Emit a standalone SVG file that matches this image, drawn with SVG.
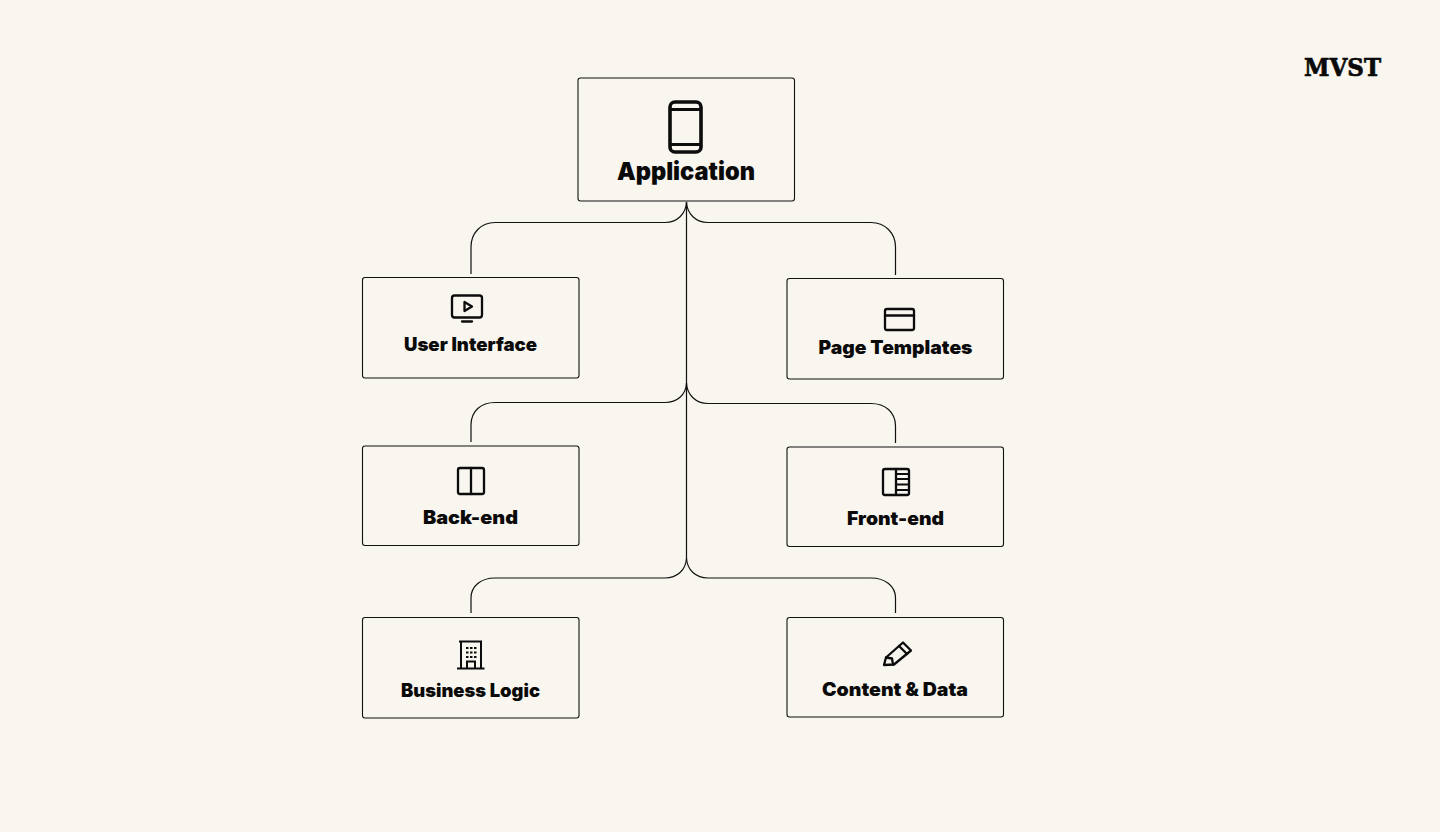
<svg xmlns="http://www.w3.org/2000/svg" width="1440" height="832" viewBox="0 0 1440 832">
<style>
.box{fill:#f9f5ef;stroke:#111;stroke-width:1.100}
.line{fill:none;stroke:#111;stroke-width:1.200}
.ic{fill:none;stroke:#0c0c0c;stroke-width:2.300;stroke-linejoin:round;stroke-linecap:round}
.lb{font-family:"Inter","Liberation Sans",sans-serif;font-weight:900;font-size:18.500px;fill:#0a0a0a;text-anchor:middle}
</style>
<rect width="1440" height="832" fill="#f9f5ef"/>
<g id="connectors" class="line">
<path d="M686.500 202V558"/>
<path d="M686.500 202C686 214 677 222.500 665 222.500H495C481 222.500 471 233 471 247V274"/>
<path d="M686.500 202C687 214 696 222.500 708 222.500H871C885 222.500 895.500 233 895.500 247V275"/>
<path d="M686.500 383C686 395 677 402.500 665 402.500H495C481 402.500 471 411 471 425V442"/>
<path d="M686.500 383C687 395 696 403.500 708 403.500H871C885 403.500 895.500 412 895.500 426V443"/>
<path d="M686.500 558C686 570 677 578 665 578H495C481 578 471 586 471 598V613"/>
<path d="M686.500 558C687 570 696 578 708 578H871C885 578 895.500 586 895.500 598V613"/>
</g>
<g id="node-application">
<rect class="box" x="578" y="78" width="216.500" height="123" rx="2.500"/>
<rect x="670" y="102" width="31" height="50" rx="5" fill="none" stroke="#0c0c0c" stroke-width="3.600"/>
<path d="M670 109.500H701M670 144.500H701" fill="none" stroke="#0c0c0c" stroke-width="3"/>
<text x="686" y="180" font-family="Inter,'Liberation Sans',sans-serif" font-weight="900" font-size="24.500" fill="#0a0a0a" text-anchor="middle" textLength="138" lengthAdjust="spacingAndGlyphs">Application</text>
</g>
<g id="node-user-interface">
<rect class="box" x="362.500" y="277.500" width="216.500" height="100.500" rx="2.500"/>
<rect class="ic" x="452" y="295.500" width="30" height="22" rx="2.500"/>
<path class="ic" d="M464.500 302V311L472 306.500Z"/>
<path class="ic" d="M462 321.500H472"/>
<text class="lb" x="470.500" y="351" textLength="133" lengthAdjust="spacingAndGlyphs">User Interface</text>
</g>
<g id="node-page-templates">
<rect class="box" x="787" y="278.500" width="216.500" height="100.500" rx="2.500"/>
<rect class="ic" x="885" y="309" width="29" height="21" rx="2"/>
<path class="ic" d="M885 315.500H914"/>
<text class="lb" x="895.500" y="353.500" textLength="154" lengthAdjust="spacingAndGlyphs">Page Templates</text>
</g>
<g id="node-back-end">
<rect class="box" x="362.500" y="446" width="216.500" height="99.500" rx="2.500"/>
<rect class="ic" x="458" y="468" width="26" height="26" rx="2"/>
<path class="ic" d="M471 468V494"/>
<text class="lb" x="470.500" y="524" textLength="95" lengthAdjust="spacingAndGlyphs">Back-end</text>
</g>
<g id="node-front-end">
<rect class="box" x="787" y="447" width="216.500" height="99.500" rx="2.500"/>
<rect class="ic" x="883" y="469" width="26" height="26" rx="2"/>
<path class="ic" d="M896 469V495"/>
<path d="M896 474H909M896 479H909M896 484.500H909M896 490H909" fill="none" stroke="#0c0c0c" stroke-width="1.800"/>
<text class="lb" x="895.500" y="525" textLength="97" lengthAdjust="spacingAndGlyphs">Front-end</text>
</g>
<g id="node-business-logic">
<rect class="box" x="362.500" y="617.500" width="216.500" height="100.500" rx="2.500"/>
<path d="M459 641.500H482M461 641.500V668M481 641.500V668M457 668.500H484.500" fill="none" stroke="#0c0c0c" stroke-width="2"/>
<path d="M466 648H468.500M470 648H472.500M474 648H476.500M466 652.500H468.500M470 652.500H472.500M474 652.500H476.500M466 657H468.500M470 657H472.500M474 657H476.500" fill="none" stroke="#0c0c0c" stroke-width="2"/>
<path d="M467 668V661.500H475V668" fill="none" stroke="#0c0c0c" stroke-width="2"/>
<text class="lb" x="470.500" y="697" textLength="139" lengthAdjust="spacingAndGlyphs">Business Logic</text>
</g>
<g id="node-content-data">
<rect class="box" x="787" y="617.500" width="216.500" height="99.500" rx="2.500"/>
<path class="ic" d="M884 665L886 657.500L903 642.500L911 650.500L894 664.500Z"/>
<path class="ic" d="M886 657.500L892 658.500L893 664.500M899 646L907 654"/>
<text class="lb" x="895" y="696" textLength="146" lengthAdjust="spacingAndGlyphs">Content &amp; Data</text>
</g>
<text id="logo" x="1342.500" y="76" font-family="'DejaVu Serif','Liberation Serif',serif" font-weight="700" font-size="25" fill="#0a0a0a" stroke="#0a0a0a" stroke-width="0.700" text-anchor="middle" textLength="77" lengthAdjust="spacingAndGlyphs">MVST</text>
</svg>
